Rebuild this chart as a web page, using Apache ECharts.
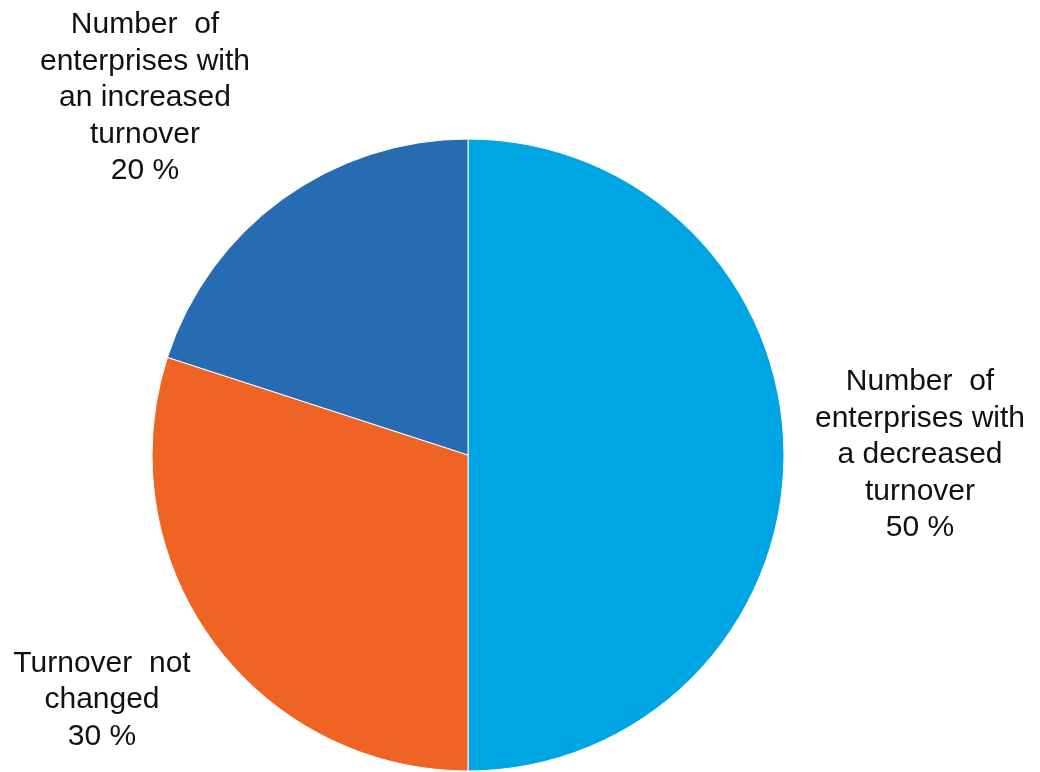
<!DOCTYPE html>
<html>
<head>
<meta charset="utf-8">
<script src="https://cdn.jsdelivr.net/npm/echarts@6/dist/echarts.min.js"></script>
<style>
  html, body { margin: 0; padding: 0; background: #fff; }
  #chart { width: 1040px; height: 772px; }
</style>
</head>
<body>
<div id="chart"></div>
<script>
// slices, clockwise from 12 o'clock
let categories = [
    'Number  of\nenterprises with\na decreased\nturnover',
    'Turnover  not\nchanged',
    'Number  of\nenterprises with\nan increased\nturnover'
]
let shares = [50, 30, 20]
let colors = ['#00a6e4', '#ef6425', '#276cb3']

// where each label block is centred
let labelPos = [
    { x: 920, y: 455 },
    { x: 102, y: 700 },
    { x: 145, y: 98 }
]

let myChart = echarts.init(document.getElementById('chart'))
myChart.setOption({
    animation: false,
    backgroundColor: '#fff',
    series: [{
        type: 'pie',
        center: [468, 455],
        radius: 316,
        startAngle: 90,
        clockwise: true,
        data: categories.map((name, i) => ({
            name: name,
            value: shares[i],
            itemStyle: { color: colors[i] }
        })),
        itemStyle: { borderColor: '#fff', borderWidth: 1 },
        label: {
            show: true,
            position: 'outside',
            formatter: '{b}\n{c} %',
            fontFamily: 'Liberation Sans, Arial, sans-serif',
            fontSize: 30,
            lineHeight: 36.5,
            color: '#111',
            align: 'center',
            overflow: 'none'
        },
        labelLine: { show: false },
        labelLayout: function(params) {
            let p = labelPos[params.dataIndex]
            return { x: p.x, y: p.y, align: 'center', verticalAlign: 'middle' }
        },
        emphasis: { disabled: true }
    }]
})
</script>
</body>
</html>
